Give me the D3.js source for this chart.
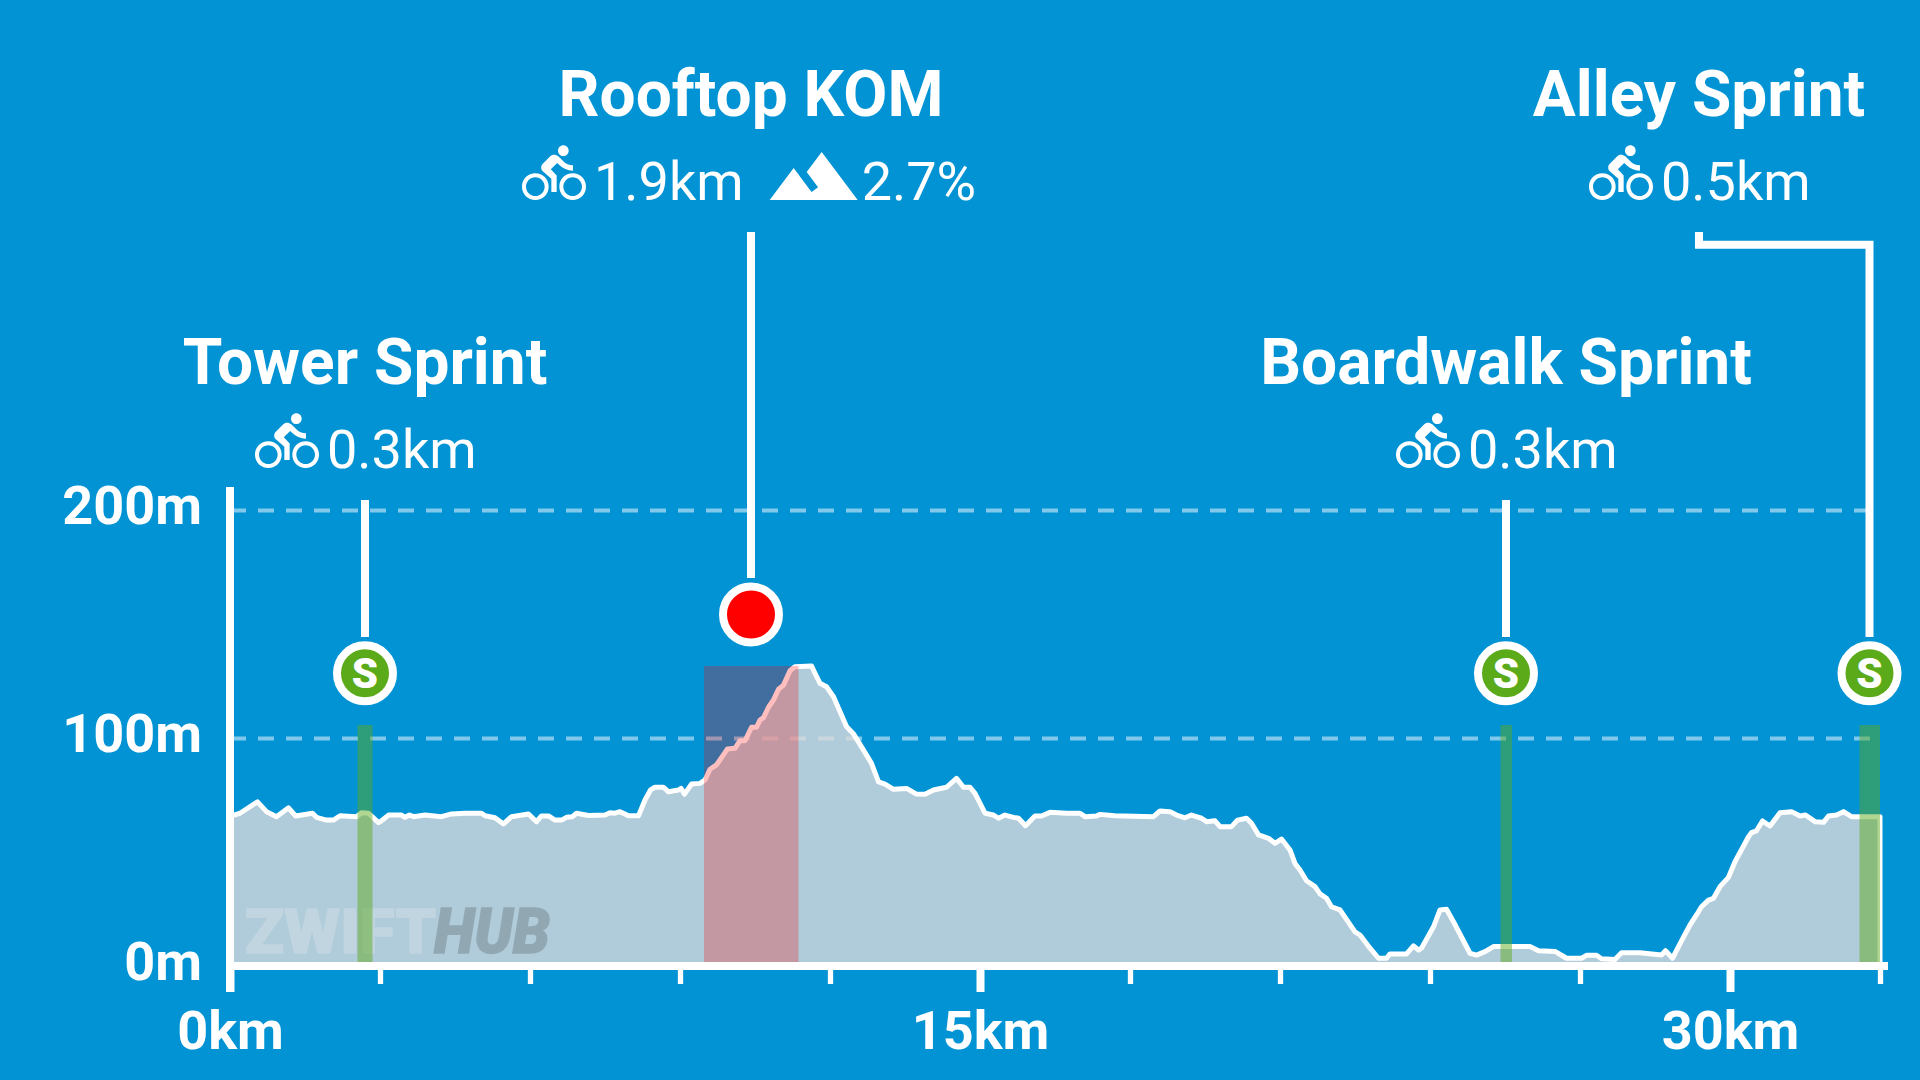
<!DOCTYPE html>
<html>
<head>
<meta charset="utf-8">
<title>Route profile</title>
<script src="https://d3js.org/d3.v7.min.js"></script>
<style>
  html, body { margin: 0; padding: 0; background: #0293d4; }
  svg { display: block; }
  text { font-family: Roboto, sans-serif; fill: #fff; }
</style>
</head>
<body>
<div id="profile"></div>
<script>
// route profile
const distKm = [0, 0.08, 0.2, 0.55, 0.73, 0.93, 1.17, 1.31, 1.65, 1.73, 1.93, 2.07, 2.2, 2.53, 2.63, 2.77, 2.97, 3.03, 3.17, 3.43, 3.5, 3.59, 3.67, 3.9, 4.23, 4.43, 4.7, 5.03,
  5.1, 5.3, 5.47, 5.63, 5.97, 6.13, 6.23, 6.37, 6.5, 6.63, 6.73, 6.85, 6.93, 7.17, 7.5, 7.6, 7.7, 7.8, 7.97, 8.17, 8.3, 8.41, 8.5, 8.67, 8.77, 8.97, 9.02, 9.09, 9.23, 9.4,
  9.5, 9.6, 9.73, 9.95, 10.1, 10.2, 10.3, 10.43, 10.53, 10.6, 10.67, 10.77, 10.87, 10.97, 11.07, 11.2, 11.3, 11.63, 11.7, 11.8, 11.93, 12.07, 12.33, 12.47, 12.67, 12.83, 12.97,
  13.1, 13.27, 13.53, 13.73, 13.9, 14.07, 14.33, 14.53, 14.67, 14.8, 14.9, 15.1, 15.27, 15.37,
  15.5, 15.67, 15.77, 15.91, 16.1, 16.23, 16.4, 16.73, 17, 17.1, 17.33, 17.4, 17.7, 18.47, 18.6, 18.8, 18.93, 19.1, 19.23, 19.43, 19.53, 19.7, 19.8, 20.03, 20.15, 20.33, 20.43, 20.57, 20.77, 20.9, 21.03, 21.2, 21.3, 21.4,
  21.53, 21.7, 21.8, 21.93, 22.03, 22.2, 22.5, 22.6, 22.8, 22.97, 23.13, 23.2, 23.53, 23.67, 23.77, 23.83, 24.07, 24.2, 24.33, 24.47, 24.8, 24.93, 25.1, 25.27, 26, 26.17, 26.5, 26.73, 27.03, 27.13, 27.33, 27.43, 27.7, 27.83, 28.2, 28.63, 28.71, 28.85,
  29.03, 29.2, 29.33, 29.43, 29.57, 29.67, 29.8, 29.97, 30.1, 30.37, 30.43, 30.53, 30.65, 30.8, 31, 31.23, 31.4, 31.51, 31.7, 31.87, 31.97, 32.13, 32.27, 32.43, 33];
const elevM = [66.2, 66.2, 67, 72, 67.7, 65.5, 69.4, 65.8, 67, 65.2, 64, 64, 65.9, 65.5, 67.2, 67, 62.9, 63.7, 66.2, 66.2, 65.2, 66.2, 65.5, 66.2, 65.5, 66.7, 67, 67,
  65.9, 65, 62.3, 65.5, 66.7, 63.3, 65.8, 65.8, 64, 64, 65.2, 65.5, 67, 66, 66.2, 67.2, 67, 67.7, 65.9, 65.9, 72.8, 77.2, 78.4, 78.4, 76.4, 77.2, 77.9, 75.4, 79.8, 80.1,
  81.6, 86.3, 88.2, 95.2, 95.5, 98.8, 98.8, 104.7, 104.7, 107.9, 108.9, 113.5, 116.7, 121.4, 123.2, 129.5, 131.3, 131.6, 128.4, 124, 122.5, 118.1, 105, 101.8, 94.7, 88.9, 80.8,
  79.8, 77.5, 77.9, 75.4, 75.3, 77.2, 78.4, 82.3, 78.4, 78.4, 75.7, 67, 66.2, 64.8,
  66.2, 65.2, 64.8, 61.5, 65.8, 65.8, 67.4, 67, 67, 65.5, 65.8, 66.5, 65.9, 65.5, 68, 67.7, 66.2, 65, 66.2, 64.8, 63.3, 63.7, 61.1, 61.1, 64, 64.8, 62.6, 57.5, 56, 53.8, 55.7, 50.9, 45, 42.1,
  37.4, 34.8, 31.6, 29.7, 26, 24.6, 15, 13.6, 7.8, 3.4, 3.4, 5.3, 5.3, 8.8, 7, 7.8, 17.2, 24.6, 24.9, 19.4, 5.6, 4.8, 6.3, 8.5, 8.5, 6.7, 6.4, 3.4, 3.4, 4.7, 4.7, 3.2, 2.9, 5.8, 5.8, 4.8, 6.7, 3.4,
  11, 18, 22.4, 26, 28.9, 29.7, 34.8, 38.9, 45.7, 56.7, 58.5, 59.3, 63.6, 61.4, 67.2, 67.7, 65.8, 66.2, 63.3, 63, 65.8, 66.2, 67.7, 65.5, 65.5];

// segments
const segNames = ['Tower Sprint', 'Rooftop KOM', 'Boardwalk Sprint', 'Alley Sprint'];
const segTypes = ['sprint', 'kom', 'sprint', 'sprint'];
const segLengths = ['0.3km', '1.9km', '0.3km', '0.5km'];
const segGrades = [null, '2.7%', null, null];
const segStartKm = [2.55, 9.48, 25.41, 32.59];
const segEndKm = [2.85, 11.37, 25.64, 33];
const segTopM = [105.7, 131.6, 105.7, 105.7];
const segMarkKm = [2.7, 10.42, 25.52, 32.79];

const minorTicks = [3, 6, 9, 12, 18, 21, 24, 27, 33];
const majorTicks = [0, 15, 30];
const yTicks = [0, 100, 200];

const W = 1920, H = 1080;
const bg = '#0293d4';

const svg = d3.select('#profile').append('svg').attr('width', W).attr('height', H);
svg.append('rect').attr('width', W).attr('height', H).attr('fill', bg);

const x = d3.scaleLinear().domain([0, 33]).range([230, 1880]);
const y = d3.scaleLinear().domain([0, 200]).range([966, 510]);
const profile = distKm.map((d, i) => ({ km: d, m: elevM[i] }));

// dashed grid + y labels
const yAxis = svg.append('g')
  .attr('transform', `translate(${x(0)},0)`)
  .call(d3.axisLeft(y).tickValues(yTicks).tickSize(0).tickPadding(28).tickFormat(d => d + 'm'));
yAxis.select('.domain').remove();
yAxis.selectAll('text')
  .attr('dy', 13)
  .style('font-size', '54px').style('font-weight', 700);
yAxis.selectAll('.tick line')
  .attr('x2', d => d ? x(32.8) - x(0) : 0)
  .attr('stroke', '#fff').attr('stroke-opacity', 0.5)
  .attr('stroke-width', 4).attr('stroke-dasharray', '16 12');

// elevation
const area = d3.area().x(d => x(d.km)).y0(y(0)).y1(d => y(d.m));
svg.append('path').datum(profile)
  .attr('d', area)
  .attr('fill', 'rgb(220,217,217)').attr('fill-opacity', 0.8)
  .attr('stroke', '#fff').attr('stroke-width', 5).attr('stroke-linejoin', 'round');

// watermark
svg.append('g').attr('opacity', 0.2)
  .append('text').attr('x', 245).attr('y', 952.5).text('ZWIFT')
  .attr('textLength', 191).attr('lengthAdjust', 'spacingAndGlyphs')
  .style('font-size', '62px').style('font-weight', 900)
  .style('fill', '#fff').style('stroke', '#fff').style('stroke-width', 1.5);
svg.append('g').attr('opacity', 0.17)
  .append('text').attr('x', 434).attr('y', 952.5).text('HUB')
  .attr('textLength', 116).attr('lengthAdjust', 'spacingAndGlyphs')
  .style('font-size', '62px').style('font-weight', 900).style('font-style', 'italic')
  .style('fill', '#000').style('stroke', '#000').style('stroke-width', 1.5);

// segment bands
svg.selectAll('rect.band').data(segNames).join('rect')
  .attr('class', 'band')
  .attr('x', (d, i) => x(segStartKm[i]))
  .attr('width', (d, i) => x(segEndKm[i]) - x(segStartKm[i]))
  .attr('y', (d, i) => y(segTopM[i]))
  .attr('height', (d, i) => y(0) - y(segTopM[i]))
  .attr('fill', (d, i) => segTypes[i] === 'kom' ? '#f00' : '#5caa1a')
  .attr('fill-opacity', (d, i) => segTypes[i] === 'kom' ? 0.25 : 0.48);

// axes
svg.append('line').attr('x1', x(0) - 4).attr('x2', 1888).attr('y1', y(0)).attr('y2', y(0))
  .attr('stroke', '#fff').attr('stroke-width', 8);
svg.append('line').attr('x1', x(0)).attr('x2', x(0)).attr('y1', 487).attr('y2', 992)
  .attr('stroke', '#fff').attr('stroke-width', 8);

const minorAxis = svg.append('g')
  .attr('transform', `translate(0,${y(0)})`)
  .call(d3.axisBottom(x).tickValues(minorTicks).tickSize(18).tickFormat(''));
minorAxis.select('.domain').remove();
minorAxis.selectAll('.tick line').attr('stroke', '#fff').attr('stroke-width', 5.3);

const majorAxis = svg.append('g')
  .attr('transform', `translate(0,${y(0)})`)
  .call(d3.axisBottom(x).tickValues(majorTicks).tickSize(26).tickPadding(0).tickFormat(d => d + 'km'));
majorAxis.select('.domain').remove();
majorAxis.selectAll('.tick line').attr('stroke', '#fff').attr('stroke-width', 8);
majorAxis.selectAll('text')
  .attr('y', 83).attr('dy', 0)
  .style('font-size', '54px').style('font-weight', 700);

// label layout: title centre, row baseline, left edge of the icon row
const titleX = [365, 751, 1506, 1699];
const titleY = [384, 116, 384, 116];
const subLeft = [255, 522, 1396, 1589];
const bikeIcon = 'M15.5 5.5c1.1 0 2-.9 2-2s-.9-2-2-2-2 .9-2 2 .9 2 2 2zM5 12c-2.8 0-5 2.2-5 5s2.2 5 5 5 5-2.2 5-5-2.2-5-5-5zm0 8.5c-1.9 0-3.5-1.6-3.5-3.5s1.6-3.5 3.5-3.5 3.5 1.6 3.5 3.5-1.6 3.5-3.5 3.5zm5.8-10l2.4-2.4.8.8c1.3 1.3 3 2.1 5.1 2.1V9c-1.5 0-2.7-.6-3.6-1.5l-1.9-1.9c-.5-.4-1-.6-1.6-.6s-1.1.2-1.4.6L7.8 8.4c-.4.4-.6.9-.6 1.4 0 .6.2 1.1.6 1.4L11 14v5h2v-6.2l-2.2-2.3zM19 12c-2.8 0-5 2.2-5 5s2.2 5 5 5 5-2.2 5-5-2.2-5-5-5zm0 8.5c-1.9 0-3.5-1.6-3.5-3.5s1.6-3.5 3.5-3.5 3.5 1.6 3.5 3.5-1.6 3.5-3.5 3.5z';
const hillIcon = 'M14 6l-3.75 5 2.85 3.8-1.6 1.2C9.81 13.75 7 10 7 10l-6 8h22L14 6z';

segNames.forEach((name, i) => {
  const kom = segTypes[i] === 'kom';
  const mx = x(segMarkKm[i]);
  const my = kom ? 614.5 : 673.3;
  const base = titleY[i] + 84;

  svg.append('text').attr('x', titleX[i]).attr('y', titleY[i]).attr('text-anchor', 'middle')
    .style('font-size', '64px').style('font-weight', 700).text(name);

  svg.append('path').attr('d', bikeIcon).attr('fill', '#fff')
    .attr('transform', `translate(${subLeft[i]},${base - 22 * 2.667}) scale(2.667)`);
  const len = svg.append('text').attr('x', subLeft[i] + 72).attr('y', base)
    .style('font-size', '54px').text(segLengths[i]);
  if (segGrades[i]) {
    const end = subLeft[i] + 72 + len.node().getComputedTextLength();
    svg.append('path').attr('d', hillIcon).attr('fill', '#fff')
      .attr('transform', `translate(${end + 22},${base - 72}) scale(4)`);
    svg.append('text').attr('x', end + 118).attr('y', base)
      .style('font-size', '54px').text(segGrades[i]);
  }

  // leader from the label down to the marker
  let leader;
  if (i === 3) leader = [[titleX[i], 232], [titleX[i], 244.7], [mx, 244.7], [mx, 637]];
  else if (kom) leader = [[mx, 232], [mx, 578]];
  else leader = [[mx, 500], [mx, 637]];
  svg.append('path').attr('d', d3.line()(leader))
    .attr('fill', 'none').attr('stroke', '#fff').attr('stroke-width', 8);

  svg.append('circle').attr('cx', mx).attr('cy', my).attr('r', 28)
    .attr('fill', kom ? '#f00' : '#5aaa1a').attr('stroke', '#fff').attr('stroke-width', 8);
  if (!kom) {
    svg.append('text').attr('x', mx).attr('y', my + 15).attr('text-anchor', 'middle')
      .style('font-size', '42px').style('font-weight', 900).text('S');
  }
});
</script>
</body>
</html>
